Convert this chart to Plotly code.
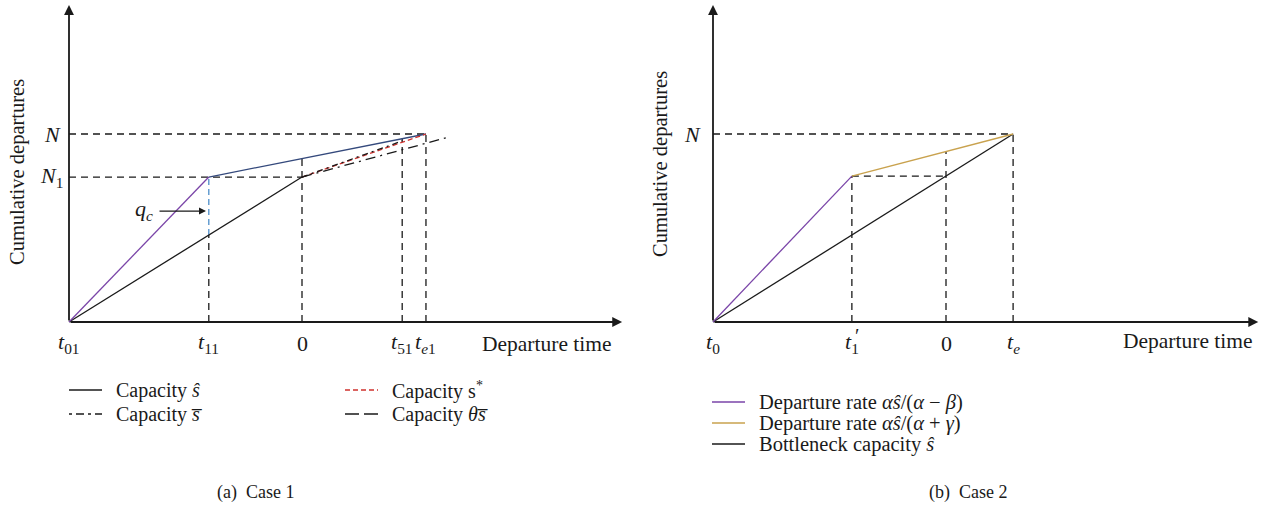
import numpy as np
import plotly.graph_objects as go

# ---------------- data (schematic, arbitrary units) ----------------
# Panel (a) Case 1
A_TICK_T = [-5.0, -2.0, 0.0, 2.15, 2.66]
A_TICK_LBL = ["<i>t</i><sub>01</sub>", "<i>t</i><sub>11</sub>", "0",
              "<i>t</i><sub>51</sub>", "<i>t</i><sub><i>e</i>1</sub>"]
A_N = 100.0
A_N1 = 77.1
A_PURPLE_T = [-5.0, -2.0]
A_PURPLE_Y = [0.0, 77.1]
A_BLUE_T = [-2.0, 2.66]
A_BLUE_Y = [77.1, 100.0]
A_HAT_T = [-5.0, 0.0]          # capacity s-hat
A_HAT_Y = [0.0, 77.1]
A_STAR_T = [0.0, 2.66]         # capacity s*
A_STAR_Y = [77.1, 100.0]
A_BAR_T = [0.0, 2.15]          # capacity s-bar
A_BAR_Y = [77.1, 96.3]
A_THETA_T = [0.0, 3.11]        # capacity theta s-bar
A_THETA_Y = [77.1, 98.1]

# Panel (b) Case 2
B_TICK_T = [-5.0, -2.02, 0.0, 1.44]
B_TICK_LBL = ["<i>t</i><sub>0</sub>", "<i>t</i><sub>1</sub>", "0", "<i>t</i><sub><i>e</i></sub>"]
B_N = 100.0
B_PURPLE_T = [-5.0, -2.02]
B_PURPLE_Y = [0.0, 77.6]
B_GOLD_T = [-2.02, 1.44]
B_GOLD_Y = [77.6, 100.0]
B_BLACK_T = [-5.0, 1.44]
B_BLACK_Y = [0.0, 100.0]

AXIS_X_END_A = 6.87
AXIS_X_END_B = 6.7
AXIS_Y_END = 168.6

# ---------------- styling ----------------
FONT = "Liberation Serif"
INK = "#1a1a1a"
PURPLE = "#7a45a8"
NAVY = "#34497c"
RED = "#d0322e"
CYAN = "#4f8fcb"
GOLD = "#c9a24e"
GUIDE_DASH = "7px,5px"

W, H = 1270, 509
SX, SY = 46.6, 1.88     # px per unit
Y0PX = 322
A0PX, B0PX = 302, 946

fig = go.Figure()


def seg(xs, ys, color, dash="solid", width=1.3, xa="x", ya="y"):
    fig.add_trace(go.Scatter(x=xs, y=ys, mode="lines", xaxis=xa, yaxis=ya,
                             line=dict(color=color, width=width, dash=dash),
                             showlegend=False, hoverinfo="skip"))


def guides(pairs, xa, ya, color=INK, dash=GUIDE_DASH):
    xs, ys = [], []
    for (x1, y1), (x2, y2) in pairs:
        xs += [x1, x2, None]
        ys += [y1, y2, None]
    seg(xs, ys, color, dash, 1.3, xa, ya)


# ---- panel (a) ----
t01, t11, tz, t51, te1 = A_TICK_T
blue_at_0 = float(np.interp(tz, A_BLUE_T, A_BLUE_Y))
blue_at_t51 = float(np.interp(t51, A_BLUE_T, A_BLUE_Y))
hat_at_t11 = float(np.interp(t11, A_HAT_T, A_HAT_Y))
guides([((t01, A_N), (te1, A_N)),
        ((t01, A_N1), (tz, A_N1)),
        ((t11, 0), (t11, hat_at_t11)),
        ((tz, 0), (tz, blue_at_0)),
        ((t51, 0), (t51, blue_at_t51)),
        ((te1, 0), (te1, A_N))], "x", "y")
guides([((t11, hat_at_t11), (t11, A_N1))], "x", "y", color=CYAN, dash="6px,4px")
seg(A_HAT_T, A_HAT_Y, INK)
seg(A_PURPLE_T, A_PURPLE_Y, PURPLE)
seg(A_BLUE_T, A_BLUE_Y, NAVY)
seg(A_STAR_T, A_STAR_Y, RED, "5px,3px")
seg(A_BAR_T, A_BAR_Y, INK, "6px,4px,2px,4px")
seg(A_THETA_T, A_THETA_Y, INK, "10px,5px,2px,5px")

# ---- panel (b) ----
t0, t1p, tzb, te = B_TICK_T
gold_at_0 = float(np.interp(tzb, B_GOLD_T, B_GOLD_Y))
black_at_0 = float(np.interp(tzb, B_BLACK_T, B_BLACK_Y))
guides([((t0, B_N), (te, B_N)),
        ((te, 0), (te, B_N)),
        ((t1p, 0), (t1p, B_PURPLE_Y[-1])),
        ((t1p, B_PURPLE_Y[-1]), (tzb, black_at_0)),
        ((tzb, 0), (tzb, gold_at_0))], "x2", "y2")
seg(B_BLACK_T, B_BLACK_Y, INK, xa="x2", ya="y2")
seg(B_PURPLE_T, B_PURPLE_Y, PURPLE, xa="x2", ya="y2")
seg(B_GOLD_T, B_GOLD_Y, GOLD, xa="x2", ya="y2")

ann = []


def arrow(x, y, ax, ay, xr, yr, width=1.8, head=2, size=1.1):
    ann.append(dict(x=x, y=y, ax=ax, ay=ay, xref=xr, yref=yr, axref=xr, ayref=yr,
                    text="", showarrow=True, arrowhead=head, arrowsize=size,
                    arrowwidth=width, arrowcolor=INK, standoff=0, startstandoff=0))


def text(x, y, s, xr, yr, size=22, xanchor="center", yanchor="middle", angle=0, xshift=0, yshift=0):
    ann.append(dict(x=x, y=y, xref=xr, yref=yr, text=s, showarrow=False,
                    font=dict(family=FONT, size=size, color=INK), textangle=angle,
                    xanchor=xanchor, yanchor=yanchor, xshift=xshift, yshift=yshift))


# axes with arrows
arrow(AXIS_X_END_A, 0, t01, 0, "x", "y")
arrow(t01, AXIS_Y_END, t01, 0, "x", "y")
arrow(AXIS_X_END_B, 0, t0, 0, "x2", "y2")
arrow(t0, AXIS_Y_END, t0, 0, "x2", "y2")

# tick labels
for t, lbl in zip(A_TICK_T, A_TICK_LBL):
    text(t, 0, lbl, "x", "y", yshift=-21)
for t, lbl in zip(B_TICK_T, B_TICK_LBL):
    text(t, 0, lbl, "x2", "y2", yshift=-21)
text(t1p, 0, "′", "x2", "y2", size=20, xshift=5, yshift=-14)
text(t01, A_N, "<i>N</i>", "x", "y", xanchor="right", xshift=-6)
text(t01, A_N1, "<i>N</i><sub>1</sub>", "x", "y", xanchor="right", xshift=-4)
text(t0, B_N, "<i>N</i>", "x2", "y2", xanchor="right", xshift=-10)

# axis titles
text(5.26, 0, "Departure time", "x", "y", size=21.5, yshift=-22)
text(5.2, 0, "Departure time", "x2", "y2", size=21.5, yshift=-19)
for xp, yp in [(17, 172), (660, 164)]:
    ann.append(dict(x=xp / W, y=1 - yp / H, xref="paper", yref="paper", text="Cumulative departures",
                    xanchor="center", yanchor="middle",
                    showarrow=False, textangle=-90, font=dict(family=FONT, size=20.5, color=INK)))

# q_c marker
arrow(-2.06, 59.0, -3.09, 59.0, "x", "y", width=1.4, head=2, size=1.0)
text(-3.39, 59.5, "<i>q</i><sub><i>c</i></sub>", "x", "y", size=22)

# captions
for xp, cap in [(255, "(a)  Case 1"), (968, "(b)  Case 2")]:
    ann.append(dict(x=xp / W, y=1 - 492 / H, xref="paper", yref="paper", text=cap,
                    xanchor="center", yanchor="middle",
                    showarrow=False, font=dict(family=FONT, size=18, color=INK)))

# manual legends
LEG = [  # (x0 px, y px, color, dash, label, font size)
    (69, 390, INK, "solid", "Capacity <i>ŝ</i>", 20),
    (69, 414, INK, "3px,4px,8px,4px", "Capacity <i>s̅</i>", 20),
    (345, 390, RED, "5px,3px", "Capacity s<sup>*</sup>", 20),
    (345, 414, INK, "14px,5px", "Capacity <i>θs̅</i>", 20),
    (712, 402, PURPLE, "solid", "Departure rate <i>αŝ</i>/(<i>α</i> − <i>β</i>)", 20.5),
    (712, 423, GOLD, "solid", "Departure rate <i>αŝ</i>/(<i>α</i> + <i>γ</i>)", 20.5),
    (712, 444, INK, "solid", "Bottleneck capacity <i>ŝ</i>", 20.5),
]
shapes = []
for x0, y, col, dash, lbl, fs in LEG:
    shapes.append(dict(type="line", xref="paper", yref="paper", x0=x0 / W, x1=(x0 + 33) / W,
                       y0=1 - y / H, y1=1 - y / H, line=dict(color=col, width=1.4, dash=dash)))
    ann.append(dict(x=(x0 + 45) / W, y=1 - y / H, xref="paper", yref="paper", text=lbl,
                    showarrow=False, xanchor="left", yanchor="middle",
                    font=dict(family=FONT, size=fs, color=INK)))

ax_common = dict(visible=False, showgrid=False, zeroline=False, fixedrange=True)
fig.update_layout(
    width=W, height=H, margin=dict(l=0, r=0, t=0, b=0),
    paper_bgcolor="white", plot_bgcolor="white", showlegend=False,
    xaxis=dict(domain=[0, 0.5], range=[(0 - A0PX) / SX, (635 - A0PX) / SX], **ax_common),
    yaxis=dict(domain=[0, 1], range=[(Y0PX - H) / SY, Y0PX / SY], **ax_common),
    xaxis2=dict(domain=[0.5, 1], range=[(635 - B0PX) / SX, (1270 - B0PX) / SX], **ax_common),
    yaxis2=dict(domain=[0, 1], anchor="x2", range=[(Y0PX - H) / SY, Y0PX / SY], **ax_common),
    annotations=ann, shapes=shapes,
)
fig.write_html("out.html", config={"displayModeBar": False},
               post_script="document.body.style.margin='0';document.body.style.overflow='hidden';")
